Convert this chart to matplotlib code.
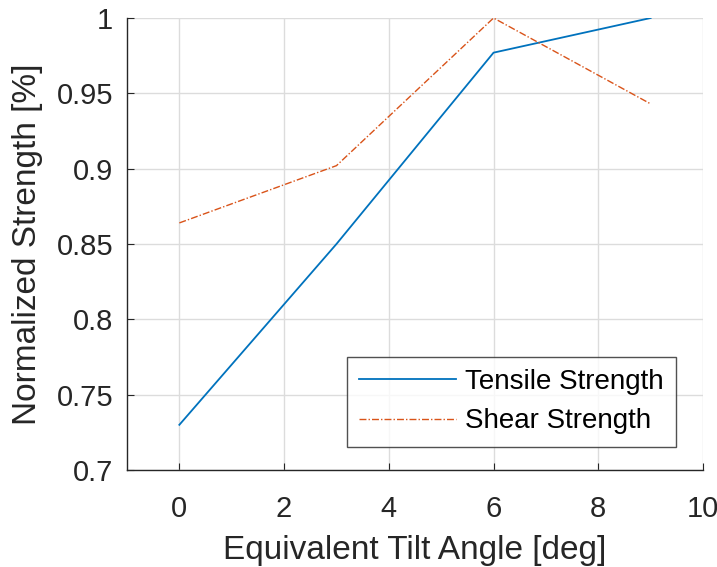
import numpy as np
import matplotlib
matplotlib.use("Agg")
import matplotlib.pyplot as plt

plt.rcParams['font.family'] = ['Liberation Sans', 'DejaVu Sans']

# data
angle = [0, 3, 6, 9]
tensile = [0.730, 0.850, 0.977, 1.000]
shear = [0.864, 0.902, 1.000, 0.943]
xticks = [0, 2, 4, 6, 8, 10]
yticks = [0.7, 0.75, 0.8, 0.85, 0.9, 0.95, 1.0]
yticklabels = ['0.7', '0.75', '0.8', '0.85', '0.9', '0.95', '1']

fig = plt.figure(figsize=(7.17, 5.67), dpi=100)
ax = fig.add_axes([127/717, 1 - 470/567, (703 - 127)/717, (470 - 18)/567])

ax.plot(angle, tensile, color='#0072BD', lw=1.3, label='Tensile Strength')
ax.plot(angle, shear, color='#D95319', lw=1.0, ls=(0, (5, 1.5, 1, 1.5)), label='Shear Strength')

ax.set_xlim(-1, 10)
ax.set_ylim(0.7, 1.0)
ax.set_xticks(xticks)
ax.set_yticks(yticks)
ax.set_yticklabels(yticklabels)
ax.grid(True, color='#dcdcdc', lw=1.0)
ax.set_axisbelow(True)
for s in ['top', 'right']:
    ax.spines[s].set_visible(False)
for s in ['left', 'bottom']:
    ax.spines[s].set_color('#262626')
    ax.spines[s].set_linewidth(1.0)
ax.tick_params(direction='in', length=5, colors='#262626', labelsize=21, labelcolor='#262626')
ax.tick_params(axis='x', pad=18)
ax.tick_params(axis='y', pad=10)

ax.set_xlabel('Equivalent Tilt Angle [deg]', fontsize=24, color='#262626', labelpad=9)
ax.set_ylabel('Normalized Strength [%]', fontsize=24, color='#262626', labelpad=10)

leg = ax.legend(loc='lower right', bbox_to_anchor=(0.953, 0.051), borderaxespad=0,
                fontsize=20, frameon=True, fancybox=False, edgecolor='#262626',
                handlelength=3.5, borderpad=0.45, labelspacing=0.48, handletextpad=0.3)
leg.get_frame().set_linewidth(1.0)

fig.savefig('out.png', dpi=100)
